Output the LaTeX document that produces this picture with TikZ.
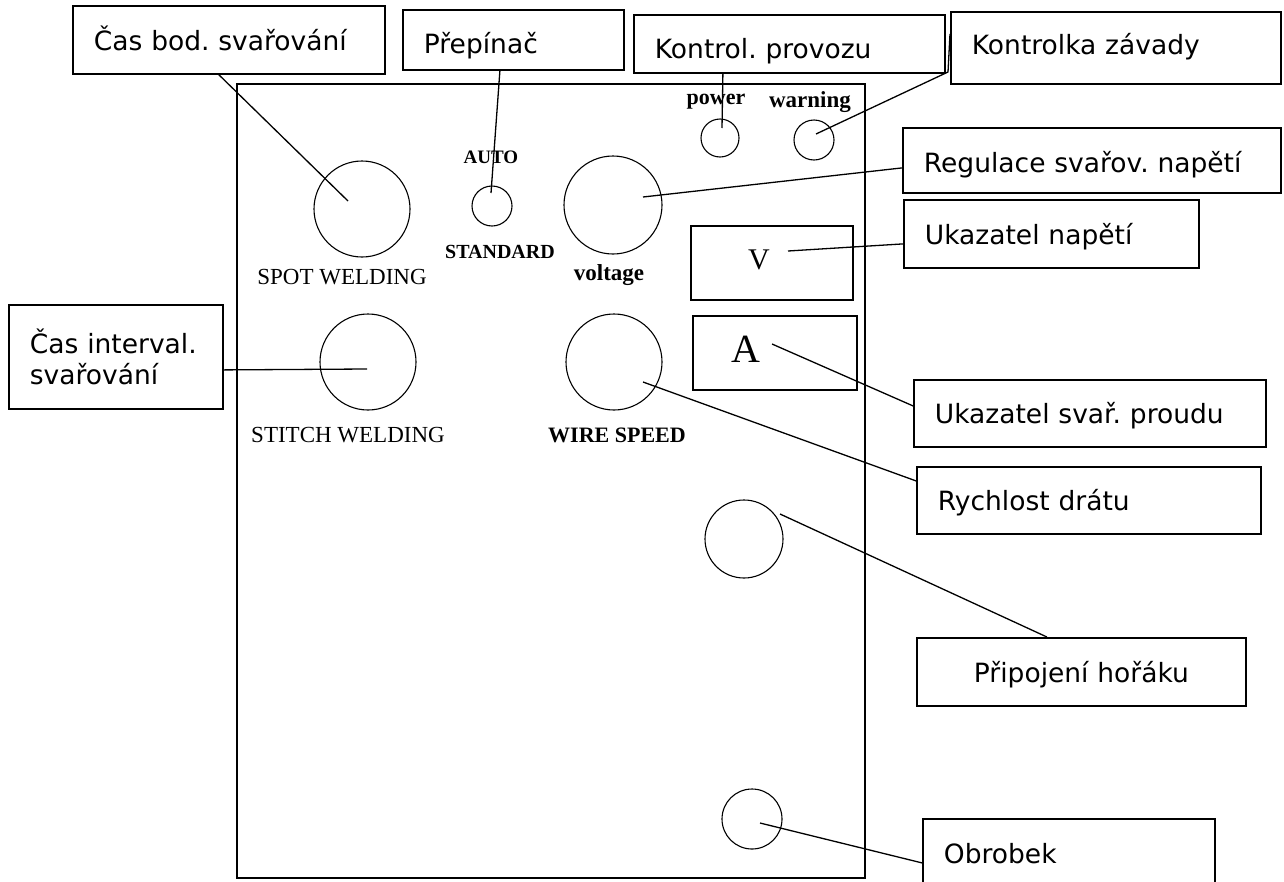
\documentclass[tikz,border=0pt]{standalone}
\usepackage{fontspec}
\setmainfont{Liberation Serif}
\newfontfamily\verd{DejaVu Sans}
\usepackage{tikz}
\usetikzlibrary{positioning,calc}
\tikzset{
  callout/.style={draw,line width=1.8pt,fill=white,anchor=north west,inner xsep=21pt,inner ysep=0pt,
    align=left,text height=21pt,text depth=0pt,font=\verd\fontsize{26.5}{31}\selectfont},
  knob/.style={draw,circle,line width=1.1pt,inner sep=0pt},
  meter/.style={draw,line width=1.6pt,anchor=north west,inner sep=0pt},
  lead/.style={line width=1.3pt},
}
\newcommand*{\tm}[1]{\fontsize{#1}{#1}\selectfont}
\newcommand*{\bt}[1]{\fontsize{#1}{#1}\selectfont\bfseries}
\frenchspacing

\begin{document}
\begin{tikzpicture}[x=1pt,y=-1pt]
\clip (0,0) rectangle (1284,881);
% front panel
\draw[line width=1.8pt] (237,84) rectangle (865,878);

% knobs, switch and lamps
\node[knob,minimum size=96pt] (spot) at (362,209) {};
\node[knob,minimum size=40pt] (sw) at (492,206) {};
\node[knob,minimum size=38pt] (pow) at (720,138) {};
\node[knob,minimum size=40pt] (warn) at (814,140) {};
\node[knob,minimum size=98pt] (volt) at (613,205) {};
\node[knob,minimum size=96pt] (stitch) at (368,362) {};
\node[knob,minimum size=96pt] (wire) at (614,362) {};
\node[knob,minimum size=78pt] (torch) at (744,539) {};
\node[knob,minimum size=60pt] (work) at (752,819) {};

% panel printing
\node[font=\tm{23}] (spotl) at (342,277) {SPOT WELDING};
\node[font=\tm{23}] (stitchl) at (348,435) {STITCH WELDING};
\node[font=\bt{22}] (wirel) at (617,435) {WIRE SPEED};
\node[font=\bt{19}] (autol) at (491,157) {AUTO};
\node[font=\bt{20}] (stdl) at (500,252) {STANDARD};
\node[font=\bt{23}] (voltl) at (609,275) {voltage};
\node[font=\bt{22}] (powl) at (716,102) {power};
\node[font=\bt{23}] (warnl) at (810,102) {warning};

% meters
\node[meter,minimum width=162pt,minimum height=74pt] (vbox) at (690,225) {};
\node[font=\tm{30}] (vlet) at (759,260) {V};
\node[meter,minimum width=164pt,minimum height=74pt] (abox) at (692,315) {};
\node[font=\tm{40}] (alet) at (746,349) {A};

% callouts
\node[callout,text width=270pt,minimum height=68pt] (casbod) at (72,5) {Čas bod. svařování};
\node[callout,text width=179pt,minimum height=60pt,text height=28pt] (prep) at (402,9) {Přepínač};
\node[callout,text width=269pt,minimum height=58pt,text height=30pt] (kprov) at (633,14) {Kontrol. provozu};
\node[callout,text width=288pt,minimum height=72pt,text height=14pt] (kzav) at (950,11) {Kontrolka závady};
\node[callout,text width=336pt,minimum height=65pt,text height=25pt] (reg) at (902,127) {Regulace svařov. napětí};
\node[callout,text width=253pt,minimum height=68pt] (ukv) at (903,199) {Ukazatel napětí};
\node[callout,text width=172pt,minimum height=104pt,text height={},text depth={}] (casint) at (8,304) {Čas interval.\\svařování};
\node[callout,text width=310pt,minimum height=67pt] (uka) at (913,379) {Ukazatel svař. proudu};
\node[callout,text width=302pt,minimum height=67pt] (rych) at (916,466) {Rychlost drátu};
\node[callout,text width=287pt,minimum height=68pt,align=center] (prip) at (916,637) {Připojení hořáku};
\node[callout,text width=250pt,minimum height=68pt] (obr) at (922,818) {Obrobek};

% lead ends
\coordinate (spotend) at (348,201);
\coordinate (swend) at (491,193);
\coordinate (powend) at (722,128);
\coordinate (warnend) at (816,134);
\coordinate (kbend) at (948,72);
\coordinate (voltend) at (643,197);
\coordinate (vend) at (788,251);
\coordinate (aend) at (772,344);
\coordinate (stitchend) at (367,369);
\coordinate (wireend) at (643,382);
\coordinate (torchend) at (780,514);
\coordinate (workend) at (760,823);

% leads
\draw[lead] ([xshift=-10pt]casbod.south) -- (spotend);
\draw[lead] ([xshift=-13.5pt]prep.south) -- (swend);
\draw[lead] ([xshift=-66.5pt]kprov.south) -- (powend);
\draw[lead] (warnend) -- (kbend) -- ([yshift=14pt]kzav.west);
\draw[lead] (voltend) -- ([yshift=-7.5pt]reg.west);
\draw[lead] (vend) -- ([yshift=-10pt]ukv.west);
\draw[lead] ([yshift=-13pt]casint.east) -- (stitchend);
\draw[lead] (aend) -- ([yshift=7.5pt]uka.west);
\draw[lead] (wireend) -- ([yshift=19.5pt]rych.west);
\draw[lead] (torchend) -- ([xshift=-34.5pt]prip.north);
\draw[lead] (workend) -- ([yshift=-10pt]obr.west);
\end{tikzpicture}
\end{document}
